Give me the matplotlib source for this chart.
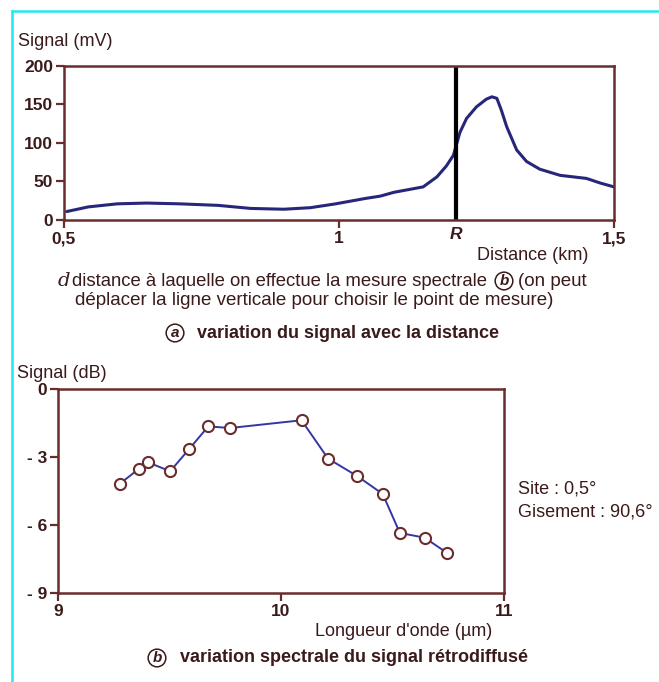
import matplotlib
matplotlib.use("Agg")
import matplotlib.pyplot as plt
from matplotlib.lines import Line2D

# ---------------- data ----------------
dist_km = [0.505, 0.544, 0.597, 0.65, 0.71, 0.78, 0.84, 0.90, 0.948, 0.994, 1.048,
           1.075, 1.10, 1.153, 1.178, 1.195, 1.208, 1.22, 1.232, 1.25, 1.268,
           1.278, 1.287, 1.295, 1.305, 1.323, 1.341, 1.365, 1.402, 1.45,
           1.475, 1.5]
signal_mv = [11, 17, 21, 22, 21, 19, 15, 14, 16, 21, 28,
             31, 36, 43, 56, 70, 84, 114, 132, 147, 157,
             160, 158, 143, 121, 91, 76, 66, 58, 54,
             48, 43]
R_km = 1.212

wavelength_um = [9.277, 9.362, 9.405, 9.503, 9.588, 9.674, 9.772, 10.092,
                 10.211, 10.343, 10.456, 10.533, 10.644, 10.746]
signal_db = [-4.18, -3.53, -3.24, -3.63, -2.65, -1.65, -1.72, -1.38,
             -3.07, -3.85, -4.63, -6.35, -6.56, -7.24]

top_yticks = [0, 50, 100, 150, 200]
top_xticks = [0.5, 1.0, 1.5]
top_xlabels = ["0,5", "1", "1,5"]
bot_yticks = [0, -3, -6, -9]
bot_ylabels = ["0", "- 3", "- 6", "- 9"]
bot_xticks = [9, 10, 11]
bot_xlabels = ["9", "10", "11"]

# ---------------- style ----------------
W, H = 659, 682
FAM = ["Liberation Sans Narrow", "Liberation Sans", "DejaVu Sans"]
plt.rcParams["font.family"] = FAM
plt.rcParams["mathtext.fontset"] = "dejavuserif"
AX_C = "#6a2c2c"
TXT_C = "#3a1a1a"
LINE_C = "#26267a"
PT_LINE_C = "#3535a5"
FS = 13

fig = plt.figure(figsize=(W / 100, H / 100), dpi=100)
fig.patch.set_facecolor("white")


def fx(x):
    return x / W


def fy(y):
    return 1 - y / H


def style_axes(ax):
    for s in ax.spines.values():
        s.set_color(AX_C)
        s.set_linewidth(1.8)
    ax.tick_params(direction="out", length=6, width=1.6, color=AX_C,
                   labelcolor=TXT_C, labelsize=12.5, pad=2)


# cyan frame
fig.add_artist(Line2D([fx(12), fx(12)], [fy(11), 0], color="#22e8f0", lw=1.8,
                      transform=fig.transFigure))
fig.add_artist(Line2D([fx(12), 1], [fy(11), fy(11)], color="#22e8f0", lw=1.8,
                      transform=fig.transFigure))

# ---------------- top panel ----------------
ax1 = fig.add_axes([fx(64), fy(220), fx(614) - fx(64), fy(66) - fy(220)])
ax1.plot(dist_km, signal_mv, color=LINE_C, lw=2.2, solid_capstyle="round",
         solid_joinstyle="round")
ax1.axvline(R_km, color="black", lw=3)
ax1.set_xlim(0.5, 1.5)
ax1.set_ylim(0, 200)
ax1.set_yticks(top_yticks)
ax1.set_xticks(top_xticks)
ax1.set_xticklabels(top_xlabels)
style_axes(ax1)
for lab in ax1.get_xticklabels() + ax1.get_yticklabels():
    lab.set_fontweight("bold")
ax1.text(R_km, -9, "R", transform=ax1.transData, ha="center", va="top",
         fontsize=12.5, fontstyle="italic", fontweight="bold", color=TXT_C)

fig.text(fx(18), fy(41), "Signal (mV)", ha="left", va="center",
         fontsize=FS, color=TXT_C)
fig.text(fx(588), fy(255), "Distance (km)", ha="right", va="center",
         fontsize=FS, color=TXT_C)

# caption lines
fig.text(fx(57), fy(281), "$d$", ha="left", va="center", fontsize=14,
         color=TXT_C)
fig.text(fx(72), fy(281),
         "distance à laquelle on effectue la mesure spectrale",
         ha="left", va="center", fontsize=13.3, color=TXT_C)
fig.text(fx(504), fy(281), "b", ha="center", va="center", fontsize=11,
         fontstyle="italic", fontweight="bold", color=TXT_C,
         bbox=dict(boxstyle="circle,pad=0.12", fc="none", ec=TXT_C, lw=1.1))
fig.text(fx(518), fy(281), "(on peut", ha="left", va="center",
         fontsize=13.5, color=TXT_C)
fig.text(fx(75), fy(300),
         "déplacer la ligne verticale pour choisir le point de mesure)",
         ha="left", va="center", fontsize=13.5, color=TXT_C)

fig.text(fx(175), fy(333), "a", ha="center", va="center", fontsize=11,
         fontstyle="italic", fontweight="bold", color=TXT_C,
         bbox=dict(boxstyle="circle,pad=0.12", fc="none", ec=TXT_C, lw=1.1))
fig.text(fx(197), fy(333), "variation du signal avec la distance",
         ha="left", va="center", fontsize=13, fontweight="bold",
         color=TXT_C)

# ---------------- bottom panel ----------------
ax2 = fig.add_axes([fx(58), fy(593), fx(504) - fx(58), fy(389) - fy(593)])
ax2.plot(wavelength_um, signal_db, color=PT_LINE_C, lw=1.4,
         marker="o", markersize=8, markerfacecolor="white",
         markeredgecolor=AX_C, markeredgewidth=1.5)
ax2.set_xlim(9, 11)
ax2.set_ylim(-9, 0)
ax2.set_yticks(bot_yticks)
ax2.set_yticklabels(bot_ylabels)
ax2.set_xticks(bot_xticks)
ax2.set_xticklabels(bot_xlabels)
style_axes(ax2)
for lab in ax2.get_xticklabels() + ax2.get_yticklabels():
    lab.set_fontweight("bold")

fig.text(fx(17), fy(373), "Signal (dB)", ha="left", va="center",
         fontsize=FS, color=TXT_C)
fig.text(fx(492), fy(632), "Longueur d'onde (µm)", ha="right", va="center",
         fontsize=FS, color=TXT_C)
fig.text(fx(518), fy(489), "Site : 0,5°", ha="left", va="center",
         fontsize=FS, color=TXT_C)
fig.text(fx(518), fy(512), "Gisement : 90,6°", ha="left", va="center",
         fontsize=FS, color=TXT_C)

fig.text(fx(157), fy(658), "b", ha="center", va="center", fontsize=11,
         fontstyle="italic", fontweight="bold", color=TXT_C,
         bbox=dict(boxstyle="circle,pad=0.12", fc="none", ec=TXT_C, lw=1.1))
fig.text(fx(180), fy(658), "variation spectrale du signal rétrodiffusé",
         ha="left", va="center", fontsize=13, fontweight="bold",
         color=TXT_C)

fig.savefig("out.png", dpi=100, facecolor="white")
